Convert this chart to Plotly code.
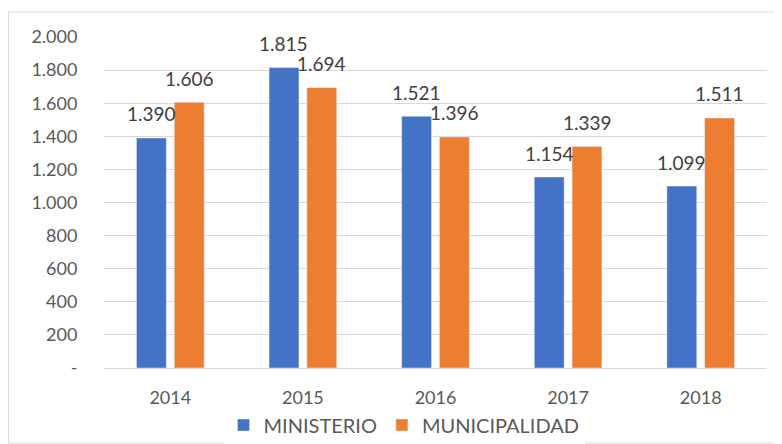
import plotly.graph_objects as go

years = ["2014", "2015", "2016", "2017", "2018"]
ministerio = [1390, 1815, 1521, 1154, 1099]
municipalidad = [1606, 1694, 1396, 1339, 1511]
y_ticks = [0, 200, 400, 600, 800, 1000, 1200, 1400, 1600, 1800, 2000]
y_tick_text = ["-", "200", "400", "600", "800", "1.000", "1.200", "1.400", "1.600", "1.800", "2.000"]

# page body has an 8px margin, so the figure is a bit smaller than the window
W, H = 774, 436
L, R, T, B = 96, 15, 29, 76
pw, ph = W - L - R, H - T - B

def fmt(v):
    return f"{v:,}".replace(",", ".")

fig = go.Figure()
fig.add_trace(go.Bar(x=years, y=ministerio, name="MINISTERIO", marker_color="#4472C4"))
fig.add_trace(go.Bar(x=years, y=municipalidad, name="MUNICIPALIDAD", marker_color="#ED7D31"))

# data labels above each bar, Excel style (x given as category index)
for vals, dx in [(ministerio, -19), (municipalidad, 19)]:
    for i, v in enumerate(vals):
        fig.add_annotation(x=i, y=v, text=fmt(v), showarrow=False,
                           xshift=dx, yshift=24, yanchor="middle",
                           font=dict(family="Lato", size=19, color="#404040"))

# chart border
fig.add_shape(type="rect", xref="paper", yref="paper",
              x0=(0.5 - L) / pw, x1=(773 - L) / pw,
              y0=-(435 - (T + ph)) / ph, y1=(T + ph - 4) / ph,
              line=dict(color="#D9D9D9", width=1))

fig.update_layout(
    width=W, height=H,
    margin=dict(l=L, r=R, t=T, b=B, autoexpand=False),
    paper_bgcolor="white", plot_bgcolor="white",
    barmode="group", bargap=0.43, bargroupgap=0.21,
    font=dict(family="Lato", size=18, color="#595959"),
    showlegend=True,
    legend=dict(orientation="h", xref="container", yref="container",
                x=396 / W, xanchor="center", y=1 - 417 / H, yanchor="middle",
                font=dict(size=20, color="#595959"), itemwidth=30, traceorder="normal"),
    xaxis=dict(type="category", showgrid=False, showline=False, ticks="outside", ticklen=13,
               tickcolor="rgba(0,0,0,0)", tickfont=dict(size=18)),
    yaxis=dict(range=[0, 2000], tickvals=y_ticks, ticktext=y_tick_text,
               showgrid=True, gridcolor="#D9D9D9", gridwidth=1,
               zeroline=True, zerolinecolor="#D9D9D9", zerolinewidth=1,
               ticks="outside", ticklen=22, tickcolor="rgba(0,0,0,0)",
               tickfont=dict(size=18)),
)

fig.write_html("out.html")
